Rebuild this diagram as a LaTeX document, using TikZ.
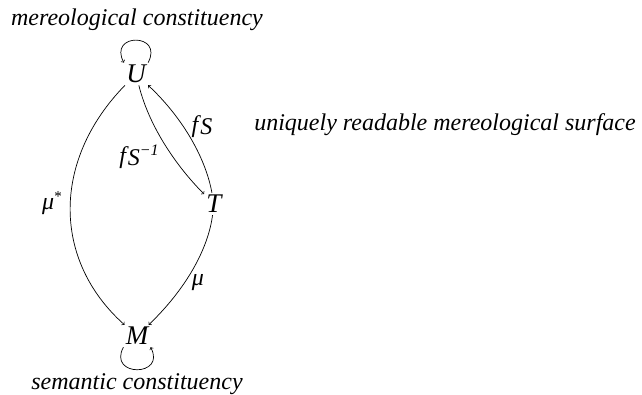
\documentclass[tikz,border=0pt]{standalone}
\usepackage{fontspec}
\setmainfont{Liberation Serif}[ItalicFont={Liberation Serif Italic}]
\begin{document}
\begin{tikzpicture}[x=1pt,y=-1pt,
  lbl/.style={font=\fontsize{24}{28}\selectfont\itshape, inner sep=1pt},
  obj/.style={font=\fontsize{27}{30}\selectfont\itshape, inner sep=2pt},
  every path/.style={line width=0.7pt}]
\useasboundingbox (0,0) rectangle (642,395);
\node[lbl] (tU) at (137,20) {mereological constituency};
\node[lbl] (tM) at (137,384) {semantic constituency};
\node[lbl] (tT) at (445,125) {uniquely readable mereological surface};
\node[obj] (U) at (136,74) {U};
\node[obj] (T) at (214,204) {T};
\node[obj] (M) at (137,336) {M};
\node[lbl] (lfs) at (202,127) {f\kern2pt\raisebox{-2pt}{S}};
\node[lbl] (lfsi) at (139,157) {f\kern2pt\raisebox{-2pt}{S}\raisebox{8pt}{\fontsize{16}{18}\selectfont −1}};
\node[lbl] (lmus) at (52,203) {μ\raisebox{8pt}{\fontsize{15}{16}\selectfont\upshape *}};
\node[lbl] (lmu) at (198,283) {μ};
\draw[->] (U) .. controls (52,160) and (52,260) .. (M);
\draw[->] (T) .. controls (208,250) and (185,290) .. (M);
\draw[->] (U) .. controls (150,130) and (180,170) .. (T);
\draw[->] (T) .. controls (205,155) and (180,115) .. (U);
\draw[->] (U.north east) .. controls +(16,-30) and +(-16,-30) .. (U.north west);
\draw[->] (M.south west) .. controls +(-16,30) and +(16,30) .. (M.south east);
\end{tikzpicture}
\end{document}
